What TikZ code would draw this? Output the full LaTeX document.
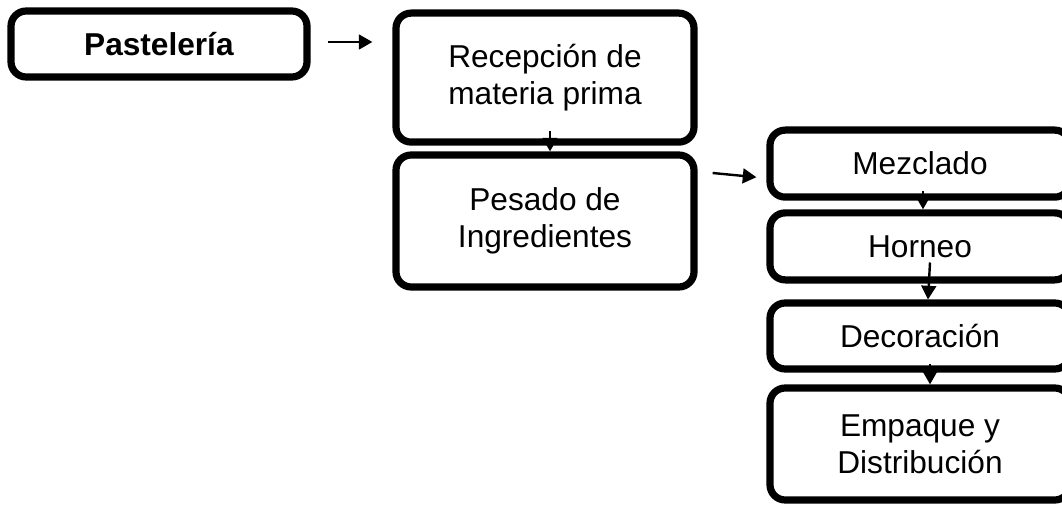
\documentclass[tikz,border=0pt]{standalone}
\usepackage{fontspec}
\setmainfont{Liberation Sans}
\usetikzlibrary{calc,arrows.meta}
\tikzset{
	caja/.style={draw, line width=0.18cm, rounded corners=0.38cm, align=center, inner sep=0pt,
		font=\fontsize{22.5}{26.5}\selectfont},
	flecha/.style={line width=0.06cm, -{Triangle[length=0.34cm, width=0.37cm]}}
}

\begin{document}
\begin{tikzpicture}
			%%%%% START %%%%%
			
			\useasboundingbox (0, 0) rectangle (26.55, -12.65);
			
			\node[caja, minimum width=7.4cm, minimum height=1.65cm] (pas) at (3.975, -1.1) {\textbf{Pastelería}};
			
			\node[caja, minimum width=7.45cm, minimum height=3.225cm] (rec) at (13.625, -1.94) {Recepción de\\materia prima};
			\node[caja, minimum width=7.45cm, minimum height=3.3cm] (pes) at (13.625, -5.525) {Pesado de\\Ingredientes};
			
			\node[caja, minimum width=7.5cm, minimum height=1.675cm] (mez) at (23, -4.09) {Mezclado};
			\node[caja, minimum width=7.5cm, minimum height=1.675cm] (hor) at (23, -6.16) {Horneo};
			\node[caja, minimum width=7.5cm, minimum height=1.65cm] (dec) at (23, -8.4) {Decoración};
			\node[caja, minimum width=7.5cm, minimum height=2.8cm] (emp) at (23, -11.1) {Empaque y\\Distribución};
			
			\draw[flecha] ($(pas.east)+(0.425, 0.05)$) -- ($(pas.east -| rec.west)+(-0.5, 0.05)$);
			\draw[flecha] ($(rec.south)+(0.125, 0.375)$) -- ($(pes.north)+(0.125, 0)$);
			\draw[flecha] ($(pes.east)+(0.375, 1.2)$) -- ($(mez.west)+(-0.25, -0.34)$);
			
			\draw[flecha] ($(mez.south)+(0.075, 0.25)$) -- ($(hor.north)+(0.075, 0)$);
			\draw[flecha] ($(hor.south)+(0.25, 0.525)$) -- ($(dec.north)+(0.2, 0)$);
			\draw[flecha] ($(dec.south)+(0.25, 0.225)$) -- ($(emp.north)+(0.25, 0)$);
			
			%%%%% END %%%%%
\end{tikzpicture}
\end{document}
